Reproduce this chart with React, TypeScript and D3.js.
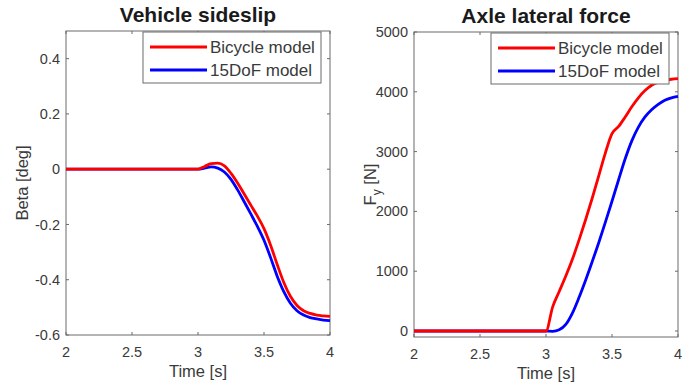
import * as d3 from 'd3';
import * as React from 'react';

// shared time grid [s]
const time = [2, 2.5, 3, 3.05, 3.1, 3.15, 3.2, 3.25, 3.3, 3.35, 3.4, 3.45, 3.5, 3.55, 3.6, 3.65, 3.7, 3.75, 3.8, 3.85, 3.9, 3.95, 4];

// sideslip [deg]
const betaBicycle = [0, 0, 0, 0.01, 0.02, 0.022, 0.012, -0.015, -0.05, -0.09, -0.13, -0.17, -0.215, -0.275, -0.345, -0.41, -0.46, -0.493, -0.512, -0.522, -0.528, -0.531, -0.533];
const beta15DoF = [0, 0, 0, 0.004, 0.008, 0.004, -0.01, -0.037, -0.075, -0.118, -0.162, -0.207, -0.257, -0.32, -0.387, -0.443, -0.485, -0.512, -0.528, -0.537, -0.542, -0.546, -0.548];

// axle lateral force [N]
const fyBicycle = [0, 0, 0, 400, 660, 920, 1200, 1520, 1860, 2220, 2600, 2980, 3300, 3420, 3580, 3750, 3900, 4020, 4110, 4160, 4190, 4210, 4220];
const fy15DoF = [0, 0, 0, -5, 20, 110, 300, 560, 850, 1160, 1480, 1820, 2170, 2530, 2880, 3180, 3410, 3580, 3700, 3790, 3860, 3900, 3925];

const xTicks = [2, 2.5, 3, 3.5, 4];
const betaTicks = [-0.6, -0.4, -0.2, 0, 0.2, 0.4];
const fyTicks = [0, 1000, 2000, 3000, 4000, 5000];
const seriesNames = ['Bicycle model', '15DoF model'];
const seriesColors = ['#ff0000', '#0000ff'];

const FONT = '"Liberation Sans", Arial, sans-serif';
const AXIS = '#6b6b6b';
const TEXT = '#3a3a3a';

const drawPanel = (svg, cfg) => {
  const { left, right, top, bottom, yDomain, yTicks, title, series, yFormat, yLabel } = cfg;
  const x = d3.scaleLinear().domain([2, 4]).range([left, right]);
  const y = d3.scaleLinear().domain(yDomain).range([bottom, top]);
  const g = svg.append('g');

  g.append('rect')
    .attr('x', left).attr('y', top)
    .attr('width', right - left).attr('height', bottom - top)
    .attr('fill', '#fff').attr('stroke', AXIS).attr('stroke-width', 1);

  // inward ticks on all four sides
  const tl = 3;
  xTicks.forEach((t) => {
    g.append('line').attr('x1', x(t)).attr('x2', x(t)).attr('y1', bottom).attr('y2', bottom - tl).attr('stroke', AXIS);
    g.append('line').attr('x1', x(t)).attr('x2', x(t)).attr('y1', top).attr('y2', top + tl).attr('stroke', AXIS);
    g.append('text').attr('x', x(t)).attr('y', bottom + 22).attr('text-anchor', 'middle')
      .attr('font-size', 14.5).attr('fill', TEXT).text(d3.format('')(t));
  });
  yTicks.forEach((t) => {
    g.append('line').attr('x1', left).attr('x2', left + tl).attr('y1', y(t)).attr('y2', y(t)).attr('stroke', AXIS);
    g.append('line').attr('x1', right).attr('x2', right - tl).attr('y1', y(t)).attr('y2', y(t)).attr('stroke', AXIS);
    g.append('text').attr('x', left - 6).attr('y', y(t)).attr('dy', '0.35em').attr('text-anchor', 'end')
      .attr('font-size', 14.5).attr('fill', TEXT).text(yFormat(t));
  });

  const line = d3.line().x((d) => x(d[0])).y((d) => y(d[1])).curve(d3.curveMonotoneX);
  series.slice().reverse().forEach((s, i) => {
    const idx = series.length - 1 - i;
    g.append('path')
      .attr('d', line(time.map((t, k) => [t, s[k]])))
      .attr('fill', 'none').attr('stroke', seriesColors[idx]).attr('stroke-width', 2.8)
      .attr('stroke-linejoin', 'round');
  });

  g.append('text').attr('x', (left + right) / 2).attr('y', top - 9).attr('text-anchor', 'middle')
    .attr('font-size', 21).attr('font-weight', 'bold').attr('fill', '#1a1a1a').text(title);

  g.append('text').attr('x', (left + right) / 2).attr('y', bottom + 42).attr('text-anchor', 'middle')
    .attr('font-size', 16.5).attr('fill', TEXT).text('Time [s]');

  const yl = g.append('text').attr('transform', `translate(${left - 38},${(top + bottom) / 2}) rotate(-90)`)
    .attr('text-anchor', 'middle').attr('font-size', 16.5).attr('fill', TEXT);
  yLabel(yl);

  // legend
  const lx = right - 187, ly = top + 1, lw = 178, lh = 51;
  g.append('rect').attr('x', lx).attr('y', ly).attr('width', lw).attr('height', lh)
    .attr('fill', '#fff').attr('stroke', AXIS).attr('stroke-width', 1);
  seriesNames.forEach((name, i) => {
    const yy = ly + 15 + i * 23;
    g.append('line').attr('x1', lx + 7).attr('x2', lx + 64).attr('y1', yy).attr('y2', yy)
      .attr('stroke', seriesColors[i]).attr('stroke-width', 3);
    g.append('text').attr('x', lx + 67).attr('y', yy).attr('dy', '0.35em')
      .attr('font-size', 17).attr('fill', TEXT).text(name);
  });
};

const App = () => {
  const ref = React.useRef<SVGSVGElement | null>(null);

  React.useEffect(() => {
    if (!ref.current) return;
    const svg = d3.select(ref.current);
    svg.selectAll('*').remove();
    svg.attr('font-family', FONT);

    drawPanel(svg, {
      left: 66, right: 330, top: 31, bottom: 335,
      yDomain: [-0.6, 0.5], yTicks: betaTicks,
      title: 'Vehicle sideslip',
      series: [betaBicycle, beta15DoF],
      yFormat: (v) => (v === 0 ? '0' : d3.format('.1f')(v).replace('−', '-')),
      yLabel: (t) => t.text('Beta [deg]'),
    });

    drawPanel(svg, {
      left: 414, right: 678, top: 32, bottom: 337,
      yDomain: [-100, 5000], yTicks: fyTicks,
      title: 'Axle lateral force',
      series: [fyBicycle, fy15DoF],
      yFormat: (v) => String(v),
      yLabel: (t) => {
        t.append('tspan').text('F');
        t.append('tspan').attr('dy', 5).attr('font-size', 12).text('y');
        t.append('tspan').attr('dy', -5).text(' [N]');
      },
    });
  }, []);

  return (
    <svg ref={ref} width={694} height={385} style={{ position: 'absolute', left: 0, top: 0, background: '#fff' }} />
  );
};

export default App;
